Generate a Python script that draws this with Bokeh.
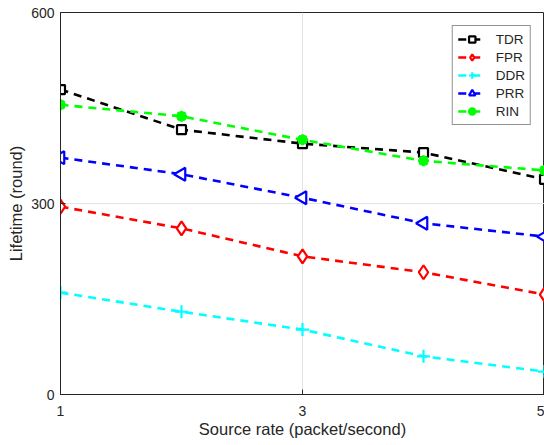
import numpy as np
from bokeh.plotting import figure
from bokeh.models import Range1d, FixedTicker, Legend, LegendItem
from bokeh.embed import file_html
from bokeh.resources import INLINE

x = [1, 2, 3, 4, 5]
tdr = [479, 416, 394, 380, 338]
fpr = [295, 261, 217, 192, 157]
ddr = [160, 130, 102, 60, 36]
prr = [372, 346, 309, 269, 248]
rin = [455, 437, 400, 367, 352]
x_ticks = [1, 3, 5]
y_ticks = [0, 300, 600]

FONT = "Liberation Sans"

p = figure(width=544, height=445, output_backend="svg", toolbar_location=None,
           x_range=Range1d(1, 5), y_range=Range1d(0, 600),
           min_border_left=60, min_border_right=0, min_border_top=12, min_border_bottom=51)
p.outline_line_color = "#262626"
p.outline_line_width = 1

for ax in (p.xaxis[0], p.yaxis[0]):
    ax.major_tick_in = 5
    ax.major_tick_out = 0
    ax.minor_tick_line_color = None
    ax.axis_line_color = "#262626"
    ax.major_tick_line_color = "#262626"
    ax.major_label_text_font = FONT
    ax.major_label_text_font_size = "14px"
    ax.major_label_text_color = "#262626"
    ax.axis_label_text_font = FONT
    ax.axis_label_text_font_size = "16.5px"
    ax.axis_label_text_font_style = "normal"
    ax.axis_label_text_color = "#262626"

p.xaxis.ticker = FixedTicker(ticks=x_ticks)
p.yaxis.ticker = FixedTicker(ticks=y_ticks)
p.xaxis.axis_label = "Source rate (packet/second)"
p.yaxis.axis_label = "Lifetime (round)"
p.xaxis.major_label_standoff = 11
p.yaxis.major_label_standoff = 6
p.xaxis.axis_label_standoff = 1
p.yaxis.axis_label_standoff = 3
p.grid.grid_line_color = "#e3e3e3"
p.grid.grid_line_width = 1

LW = 2.6

def series(ys, color, marker, size, angle=0.0, fill=False):
    r1 = p.line(x, ys, line_color=color, line_width=LW, line_dash="8 6")
    r2 = p.scatter(x, ys, marker=marker, size=size, line_color=color, line_width=2.2,
                   angle=angle, fill_color=color if fill else "white")
    return [r1, r2]

r_tdr = series(tdr, "black", "square", 9)
r_fpr = series(fpr, "red", "diamond", 14)
r_ddr = series(ddr, "cyan", "cross", 13)
r_prr = series(prr, "blue", "triangle", 13, angle=np.pi / 2)
r_rin = series(rin, "#00ff00", "circle", 8, fill=True)
r_rin.append(p.scatter(x, rin, marker="asterisk", size=11, line_color="#00ff00", line_width=2.5))

legend = Legend(items=[
    LegendItem(label="TDR", renderers=r_tdr),
    LegendItem(label="FPR", renderers=r_fpr),
    LegendItem(label="DDR", renderers=r_ddr),
    LegendItem(label="PRR", renderers=r_prr),
    LegendItem(label="RIN", renderers=r_rin),
], location="top_right")
legend.margin = 13
legend.padding = 5
legend.spacing = 2
legend.glyph_width = 28
legend.glyph_height = 16
legend.label_standoff = 10
legend.label_text_font = FONT
legend.label_text_font_size = "13.5px"
legend.label_text_color = "#262626"
legend.border_line_color = "#262626"
legend.border_line_width = 1
legend.background_fill_alpha = 1
p.add_layout(legend)

open("out.html", "w").write(file_html(p, INLINE))
